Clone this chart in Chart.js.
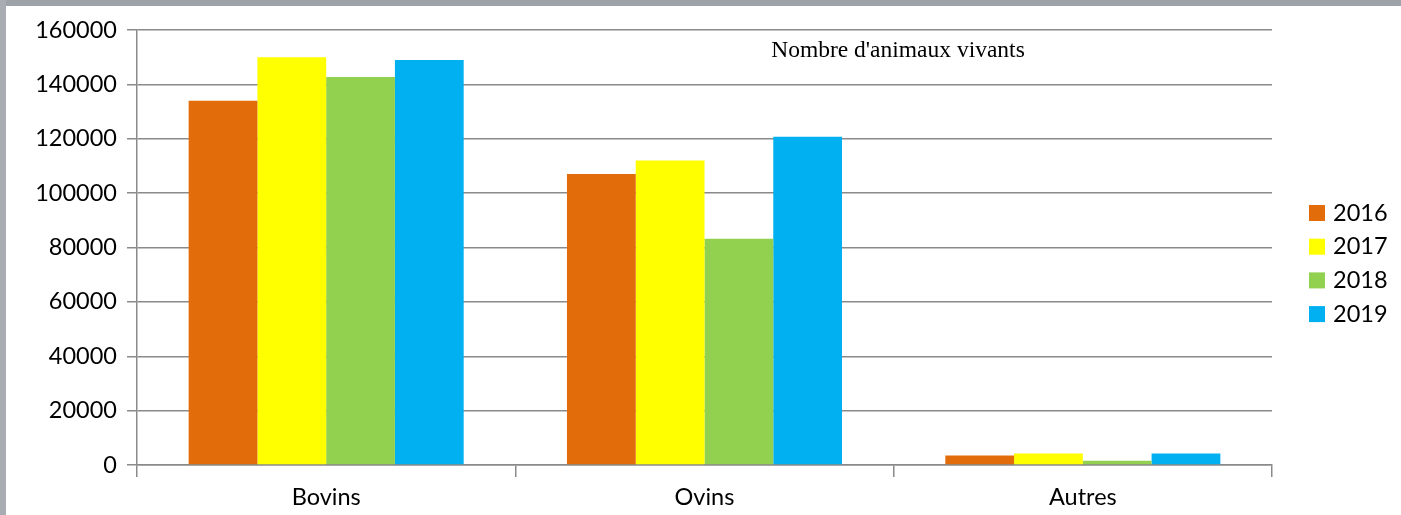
<!DOCTYPE html>
<html>
<head>
<meta charset="utf-8">
<script src="https://cdn.jsdelivr.net/npm/chart.js@4.4.1/dist/chart.umd.min.js"></script>
<style>
  html, body { margin: 0; padding: 0; background: #ffffff; }
  body { width: 1401px; height: 515px; overflow: hidden; position: relative; }
  .frame-top { position: absolute; left: 0; top: 0; width: 1401px; height: 6px; background: #9ea2a9; }
  .frame-left { position: absolute; left: 0; top: 0; width: 6px; height: 515px; background: #a9adb3; }
  #wrap { position: absolute; left: 0; top: 0; width: 1401px; height: 515px; }
</style>
</head>
<body>
<div class="frame-top"></div>
<div class="frame-left"></div>
<div id="wrap"><canvas id="chart" width="1401" height="515"></canvas></div>
<script>
// Effectifs d'animaux vivants par espèce et par année
const categories = ['Bovins', 'Ovins', 'Autres'];
const years = ['2016', '2017', '2018', '2019'];
const values2016 = [134000, 107000, 3500];
const values2017 = [150000, 112000, 4200];
const values2018 = [142700, 83200, 1600];
const values2019 = [149000, 120700, 4200];
const yTicks = [0, 20000, 40000, 60000, 80000, 100000, 120000, 140000, 160000];
const chartTitle = "Nombre d'animaux vivants";

const seriesValues = [values2016, values2017, values2018, values2019];
const seriesColors = ['#E36C0A', '#FFFF00', '#92D050', '#00B0F0'];

const FONT = 'Lato, "Open Sans", sans-serif';
const GRID = '#8a8a8a';

// Titre posé dans la zone de tracé, en haut à droite
const titlePlugin = {
  id: 'innerTitle',
  afterDraw(chart) {
    const ctx = chart.ctx;
    ctx.save();
    ctx.font = '23.5px "Liberation Serif", "Times New Roman", serif';
    ctx.fillStyle = '#000';
    ctx.textAlign = 'center';
    ctx.textBaseline = 'alphabetic';
    ctx.fillText(chartTitle, 898, 57);
    ctx.restore();
  }
};

// Légende verticale à droite du graphique
const legendPlugin = {
  id: 'sideLegend',
  afterDraw(chart) {
    const ctx = chart.ctx;
    ctx.save();
    ctx.font = '23.5px ' + FONT;
    ctx.textAlign = 'left';
    ctx.textBaseline = 'middle';
    chart.data.datasets.forEach((ds, i) => {
      const cy = 213 + i * 33.7;
      ctx.fillStyle = ds.backgroundColor;
      ctx.fillRect(1309, cy - 8, 16, 16);
      ctx.fillStyle = '#000';
      ctx.fillText(ds.label, 1333, cy);
    });
    ctx.restore();
  }
};

new Chart(document.getElementById('chart'), {
  type: 'bar',
  data: {
    labels: categories,
    datasets: years.map((y, i) => ({
      label: y,
      data: seriesValues[i],
      backgroundColor: seriesColors[i],
      borderWidth: 0,
      barPercentage: 1.0,
      categoryPercentage: 0.727
    }))
  },
  options: {
    responsive: false,
    animation: false,
    layout: { padding: { top: 30, right: 129, left: 0, bottom: 0 } },
    plugins: {
      legend: { display: false },
      title: { display: false },
      tooltip: { enabled: false }
    },
    scales: {
      x: {
        grid: {
          drawOnChartArea: false,
          drawTicks: true,
          tickLength: 12,
          color: GRID,
          lineWidth: 1.5,
          offset: true
        },
        border: { display: true, color: GRID, width: 1.5 },
        ticks: {
          color: '#000',
          font: { family: FONT, size: 23.5 },
          padding: 6,
          maxRotation: 0
        },
        afterFit(scale) { scale.height = 50; }
      },
      y: {
        min: 0,
        max: 160000,
        afterBuildTicks(scale) { scale.ticks = yTicks.map(v => ({ value: v })); },
        grid: {
          color: GRID,
          lineWidth: 1.5,
          drawTicks: true,
          tickLength: 10
        },
        border: { display: true, color: GRID, width: 1.5 },
        ticks: {
          color: '#000',
          font: { family: FONT, size: 23.5 },
          padding: 10,
          callback: v => String(v)
        },
        afterFit(scale) { scale.width = 137; }
      }
    }
  },
  plugins: [titlePlugin, legendPlugin]
});
</script>
</body>
</html>
